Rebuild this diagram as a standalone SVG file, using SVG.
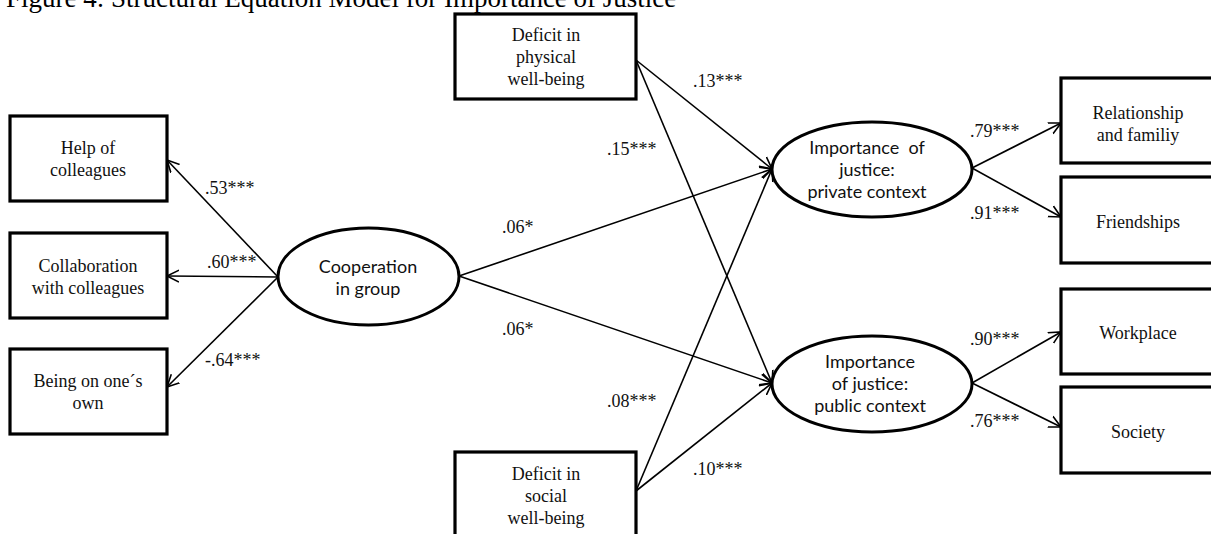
<svg xmlns="http://www.w3.org/2000/svg" width="1211" height="534" viewBox="0 0 1211 534">
<defs>
<marker id="ah" markerWidth="14" markerHeight="14" refX="12" refY="6" orient="auto" markerUnits="userSpaceOnUse" viewBox="0 0 14 12">
<path d="M0,0 L12,6 L0,12" fill="none" stroke="#000" stroke-width="1.6"/>
</marker>
<style>
.box{fill:#fff;stroke:#000;stroke-width:3.2}
.ell{fill:#fff;stroke:#000;stroke-width:3}
.t{font-family:"Liberation Serif","Times New Roman",serif;font-size:18px;fill:#111;text-anchor:middle}
.s{font-family:Lato,"Liberation Sans",sans-serif;font-size:18px;fill:#111;text-anchor:middle;white-space:pre}
.lb{font-family:"Liberation Serif","Times New Roman",serif;font-size:18px;fill:#111}
.c line{stroke:#000;stroke-width:1.6;marker-end:url(#ah)}
.title{font-family:"Liberation Serif","Times New Roman",serif;font-size:27px;fill:#000}
</style>
</defs>
<rect width="1211" height="534" fill="#fff"/>
<text class="title" x="6" y="7">Figure 4: Structural Equation Model for Importance of Justice</text>

<g id="connectors" class="c">
<line x1="278" y1="277" x2="167" y2="160"/>
<line x1="278" y1="277" x2="167" y2="276"/>
<line x1="278" y1="277" x2="167" y2="387"/>
<line x1="459" y1="276" x2="772" y2="169"/>
<line x1="459" y1="276" x2="772" y2="383"/>
<line x1="636" y1="60" x2="772" y2="169"/>
<line x1="636" y1="60" x2="772" y2="383"/>
<line x1="636" y1="491" x2="772" y2="169"/>
<line x1="636" y1="491" x2="772" y2="383"/>
<line x1="972" y1="168" x2="1061" y2="123"/>
<line x1="972" y1="168" x2="1061" y2="217"/>
<line x1="972" y1="383" x2="1061" y2="332"/>
<line x1="972" y1="383" x2="1061" y2="427"/>
</g>

<g id="labels">
<text class="lb" x="205" y="194">.53***</text>
<text class="lb" x="207" y="268">.60***</text>
<text class="lb" x="205" y="366">-.64***</text>
<text class="lb" x="502" y="233">.06*</text>
<text class="lb" x="502" y="335">.06*</text>
<text class="lb" x="693" y="87">.13***</text>
<text class="lb" x="607" y="155">.15***</text>
<text class="lb" x="607" y="407">.08***</text>
<text class="lb" x="693" y="475">.10***</text>
<text class="lb" x="970" y="137">.79***</text>
<text class="lb" x="970" y="219">.91***</text>
<text class="lb" x="970" y="345">.90***</text>
<text class="lb" x="970" y="427">.76***</text>
</g>

<g id="help">
<rect class="box" x="10" y="116" width="157" height="85"/>
<text class="t" x="88" y="154">Help of</text>
<text class="t" x="88" y="176">colleagues</text>
</g>
<g id="collab">
<rect class="box" x="10" y="233" width="157" height="85"/>
<text class="t" x="88" y="272">Collaboration</text>
<text class="t" x="88" y="294">with colleagues</text>
</g>
<g id="being">
<rect class="box" x="10" y="349" width="157" height="85"/>
<text class="t" x="88" y="387">Being on one´s</text>
<text class="t" x="88" y="409">own</text>
</g>
<g id="coop">
<ellipse class="ell" cx="368.5" cy="276.5" rx="90.5" ry="48.5"/>
<text class="s" x="368" y="273">Cooperation</text>
<text class="s" x="368" y="295">in group</text>
</g>
<g id="physical">
<rect class="box" x="455" y="14" width="181" height="85"/>
<text class="t" x="546" y="41">Deficit in</text>
<text class="t" x="546" y="63">physical</text>
<text class="t" x="546" y="85">well-being</text>
</g>
<g id="social">
<rect class="box" x="455" y="452" width="181" height="95"/>
<text class="t" x="546" y="480">Deficit in</text>
<text class="t" x="546" y="502">social</text>
<text class="t" x="546" y="524">well-being</text>
</g>
<g id="private">
<ellipse class="ell" cx="872" cy="169.5" rx="100" ry="47.5"/>
<text class="s" x="867" y="154">Importance  of</text>
<text class="s" x="867" y="176">justice:</text>
<text class="s" x="867" y="198">private context</text>
</g>
<g id="public">
<ellipse class="ell" cx="872" cy="384" rx="100" ry="48"/>
<text class="s" x="870" y="368">Importance</text>
<text class="s" x="870" y="390">of justice:</text>
<text class="s" x="870" y="412">public context</text>
</g>
<g id="relationship">
<rect class="box" x="1061" y="78" width="170" height="85"/>
<text class="t" x="1138" y="119">Relationship</text>
<text class="t" x="1138" y="141">and familiy</text>
</g>
<g id="friendships">
<rect class="box" x="1061" y="177" width="170" height="86"/>
<text class="t" x="1138" y="228">Friendships</text>
</g>
<g id="workplace">
<rect class="box" x="1061" y="289" width="170" height="85"/>
<text class="t" x="1138" y="339">Workplace</text>
</g>
<g id="society">
<rect class="box" x="1061" y="387" width="170" height="86"/>
<text class="t" x="1138" y="438">Society</text>
</g>
</svg>
